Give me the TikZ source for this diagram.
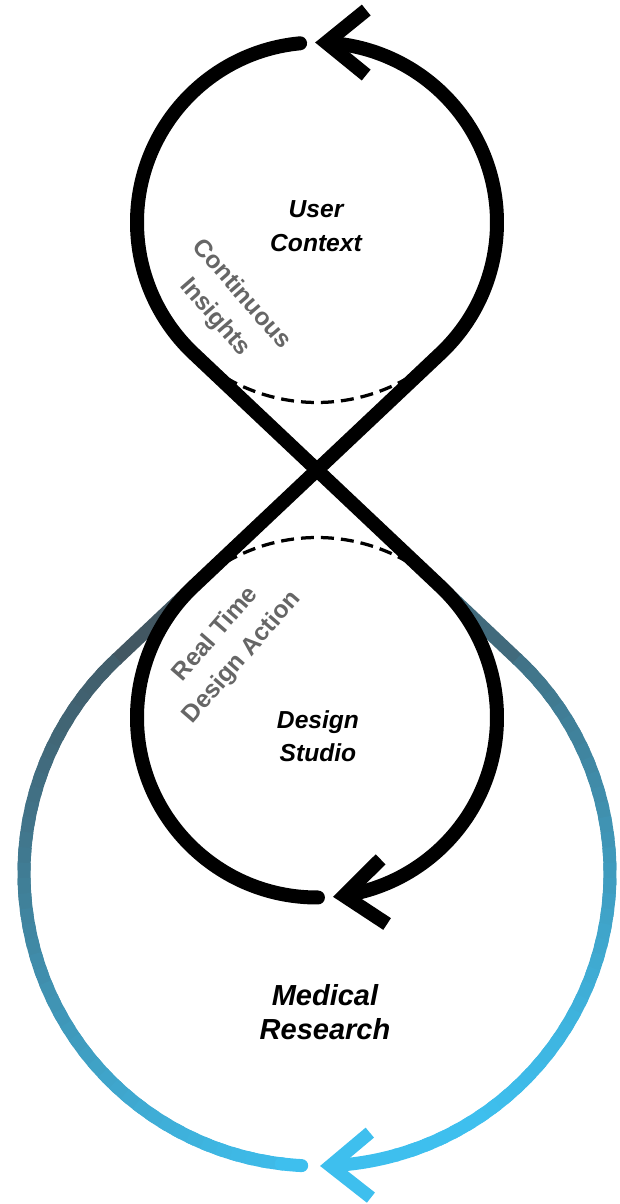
\documentclass[tikz,border=0pt]{standalone}
\usepackage{fontspec}
\setmainfont{Liberation Sans}
\usetikzlibrary{arrows.meta,bending}
\definecolor{slate}{RGB}{66,78,86}
\definecolor{sky}{RGB}{62,191,238}
\definecolor{labelgray}{RGB}{102,102,102}
\begin{document}
\begin{tikzpicture}[
  eight/.style={line width=0.28cm, line cap=round},
  tip/.style={-{Straight Barb[sharp,length=0.8cm,width=1.3cm]}},
  outer/.style={line width=0.26cm},
  seam/.style={line width=0.065cm, dash pattern=on 0.26cm off 0.14cm},
  title/.style={align=center, font=\bfseries\itshape\fontsize{14}{19}\selectfont},
  aside/.style={align=center, text=labelgray, font=\bfseries\fontsize{14}{20}\selectfont}]
\useasboundingbox (-6.34,-14.68) rectangle (6.04,9.4);
\coordinate (x) at (0,0);
\coordinate (ctop) at (0,4.95);
\coordinate (cbot) at (0,-4.95);
\coordinate (cout) at (0,-8.06);

\draw[outer, color=sky!8!slate] ([shift={(133.3:3.6)}]cbot) -- ([shift={(133.3:5.86)}]cout);
\draw[outer, color=sky!25!slate] ([shift={(46.7:3.6)}]cbot) -- ([shift={(46.7:5.86)}]cout);
\foreach \a in {134,137,...,260} {
  \pgfmathtruncatemacro\p{max(0,min(100,(50*(8.06-5.86*sin(\a))+90.8*cos(\a)-36.3)/6.6))}
  \pgfmathsetmacro\s{\a-1}
  \pgfmathsetmacro\b{\a+3.5}
  \draw[outer, color=sky!\p!slate] ([shift={(\s:5.86)}]cout) arc[start angle=\s, end angle=\b, radius=5.86];
}
\draw[outer, line cap=round, color=sky] ([shift={(263:5.86)}]cout) arc[start angle=263, end angle=267, radius=5.86];
\foreach \a in {46,43,...,-71} {
  \pgfmathtruncatemacro\p{max(0,min(100,(50*(8.06-5.86*sin(\a))+90.8*cos(\a)-36.3)/6.6))}
  \pgfmathsetmacro\s{\a+1}
  \pgfmathsetmacro\b{\a-3.5}
  \draw[outer, color=sky!\p!slate] ([shift={(\s:5.86)}]cout) arc[start angle=\s, end angle=\b, radius=5.86];
}
\draw[outer, tip, color=sky] ([shift={(-74:5.86)}]cout) arc[start angle=-74, end angle=-89.4, radius=5.86];

\draw[seam] ([shift={(-133.3:3.6)}]ctop) arc[start angle=-133.3, end angle=-46.7, radius=3.6];
\draw[seam] ([shift={(133.3:3.6)}]cbot) arc[start angle=133.3, end angle=46.7, radius=3.6];
\draw[eight, tip] ([shift={(95.4:3.6)}]ctop) arc[start angle=95.4, end angle=226.7, radius=3.6] -- ([shift={(46.7:3.6)}]cbot) arc[start angle=46.7, end angle=-84.9, radius=3.6];
\draw[eight, tip] ([shift={(-89.7:3.6)}]cbot) arc[start angle=-89.7, end angle=-226.7, radius=3.6] -- ([shift={(-46.7:3.6)}]ctop) arc[start angle=-46.7, end angle=90.6, radius=3.6];

\node[title] (user) at (-0.02,4.88) {User\\Context};
\node[title] (studio) at (0.02,-5.32) {Design\\Studio};
\node[title, font=\bfseries\itshape\fontsize{16.5}{19}\selectfont] (research) at (0.16,-10.84) {Medical\\Research};
\node[aside, rotate=-49] (insights) at (-1.78,3.28) {Continuous\\Insights};
\node[aside, rotate=49] (action) at (-1.76,-3.52) {Real Time\\Design Action};
\end{tikzpicture}
\end{document}
